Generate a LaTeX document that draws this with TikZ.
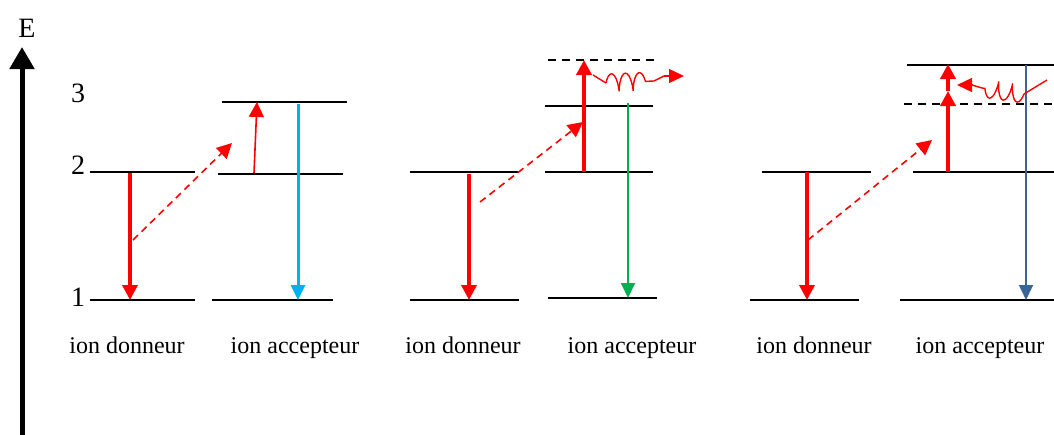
\documentclass[tikz,border=0pt]{standalone}
\usepackage{fontspec}
\setmainfont{Liberation Serif}
\usetikzlibrary{arrows.meta,decorations.pathmorphing}
\definecolor{lblue}{HTML}{00B0F0}
\definecolor{lgreen}{HTML}{00B050}
\definecolor{dblue}{HTML}{3A6599}
\tikzset{
  lvl/.style={line width=1.6pt, black},
  vlvl/.style={line width=1.6pt, black, dash pattern=on 8pt off 6pt},
  thickred/.style={red, line width=4pt, -{Triangle[length=15pt,width=15pt]}},
  thinred/.style={red, line width=1.6pt, -{Triangle[length=15pt,width=15pt]}},
  transfer/.style={red, line width=1.6pt, dash pattern=on 7pt off 5pt, -{Triangle[length=15pt,width=15pt]}},
  emit/.style={line width=1.8pt, -{Triangle[length=15pt,width=14pt]}},
  wavy/.style={red, line width=1.4pt, decorate, decoration={coil, amplitude=9pt, segment length=14pt, aspect=0.25}},
  lab/.style={font=\fontsize{24}{26}\selectfont, inner sep=0pt, anchor=base},
  num/.style={font=\fontsize{28}{30}\selectfont, inner sep=0pt}
}
\begin{document}
\begin{tikzpicture}[x=1pt,y=-1pt]
\useasboundingbox (0,0) rectangle (1054,434);
% energy axis
\coordinate (ax0) at (22,436);
\coordinate (ax1) at (22,47);
\draw[line width=5pt, -{Triangle[length=22pt,width=24pt]}] (ax0) -- (ax1);
\node[num] (E) at (27,28) {E};
\node[num] (n3) at (78,93) {3};
\node[num] (n2) at (78,165) {2};
\node[num] (n1) at (78,297) {1};

% ---------- panel 1 ----------
\draw[lvl] (90,172) -- (195,172);
\draw[lvl] (90,300) -- (195,300);
\draw[lvl] (222,102) -- (347,102);
\draw[lvl] (218,174) -- (343,174);
\draw[lvl] (212,300) -- (333,300);
\coordinate (p1a) at (130,173);
\coordinate (p1b) at (130,300);
\draw[red, line width=3.5pt, -{Triangle[length=15pt,width=15pt]}] (p1a) -- (p1b);
\coordinate (p1c) at (133,240);
\coordinate (p1d) at (232,143);
\draw[transfer] (p1c) -- (p1d);
\coordinate (p1e) at (254,173);
\coordinate (p1f) at (257,102);
\draw[thinred] (p1e) -- (p1f);
\coordinate (p1g) at (298,104);
\coordinate (p1h) at (298,300);
\draw[emit, lblue, line width=3pt] (p1g) -- (p1h);
\node[lab] (l1) at (127,353) {ion donneur};
\node[lab] (l2) at (295,353) {ion accepteur};

% ---------- panel 2 ----------
\draw[lvl] (410,172) -- (519,172);
\draw[lvl] (410,300) -- (519,300);
\draw[vlvl] (548,60) -- (654,60);
\draw[lvl] (545,106) -- (653,106);
\draw[lvl] (545,172) -- (653,172);
\draw[lvl] (548,298) -- (657,298);
\coordinate (p2a) at (469,174);
\coordinate (p2b) at (469,300);
\draw[red, line width=3.5pt, -{Triangle[length=15pt,width=15pt]}] (p2a) -- (p2b);
\coordinate (p2c) at (480,202);
\coordinate (p2d) at (583,122);
\draw[transfer] (p2c) -- (p2d);
\coordinate (p2e) at (584,172);
\coordinate (p2f) at (584,60);
\draw[thickred] (p2e) -- (p2f);
\coordinate (p2g) at (628,103);
\coordinate (p2h) at (628,298);
\draw[emit, lgreen] (p2g) -- (p2h);
\coordinate (p2i) at (593,75);
\coordinate (p2j) at (606,83);
\coordinate (p2k) at (654,81);
\coordinate (p2m) at (664,76);
\coordinate (p2l) at (684,76);
\draw[red, line width=1.4pt] (p2i) -- (p2j);
\draw[wavy] (p2j) -- (p2k);
\draw[red, line width=1.4pt] (p2k) -- (p2m);
\draw[red, line width=1.4pt, -{Triangle[length=15pt,width=14pt]}] (p2m) -- (p2l);
\node[lab] (l3) at (463,353) {ion donneur};
\node[lab] (l4) at (632,353) {ion accepteur};

% ---------- panel 3 ----------
\draw[lvl] (762,172) -- (871,172);
\draw[lvl] (750,300) -- (859,300);
\draw[lvl] (907,65) -- (1054,65);
\draw[vlvl] (904,104) -- (1054,104);
\draw[lvl] (913,172) -- (1054,172);
\draw[lvl] (900,300) -- (1054,300);
\coordinate (p3a) at (807,172);
\coordinate (p3b) at (807,300);
\draw[red, line width=3.5pt, -{Triangle[length=15pt,width=15pt]}] (p3a) -- (p3b);
\coordinate (p3c) at (808,240);
\coordinate (p3d) at (932,140);
\draw[transfer] (p3c) -- (p3d);
\coordinate (p3e) at (948,172);
\coordinate (p3f) at (948,91);
\coordinate (p3g) at (948,64);
\draw[thickred] (p3e) -- (p3f);
\draw[thickred] (p3f) -- (p3g);
\coordinate (p3h) at (1026,65);
\coordinate (p3i) at (1026,300);
\draw[emit, dblue, line width=1.6pt] (p3h) -- (p3i);
\coordinate (p3j) at (1047,80);
\coordinate (p3k) at (1024,94);
\coordinate (p3l) at (982,88);
\coordinate (p3n) at (972,85);
\coordinate (p3m) at (957,85);
\draw[red, line width=1.4pt] (p3j) -- (p3k);
\draw[wavy] (p3k) -- (p3l);
\draw[red, line width=1.4pt] (p3l) -- (p3n);
\draw[red, line width=1.4pt, -{Triangle[length=15pt,width=14pt]}] (p3n) -- (p3m);
\node[lab] (l5) at (814,353) {ion donneur};
\node[lab] (l6) at (980,353) {ion accepteur};
\end{tikzpicture}
\end{document}
